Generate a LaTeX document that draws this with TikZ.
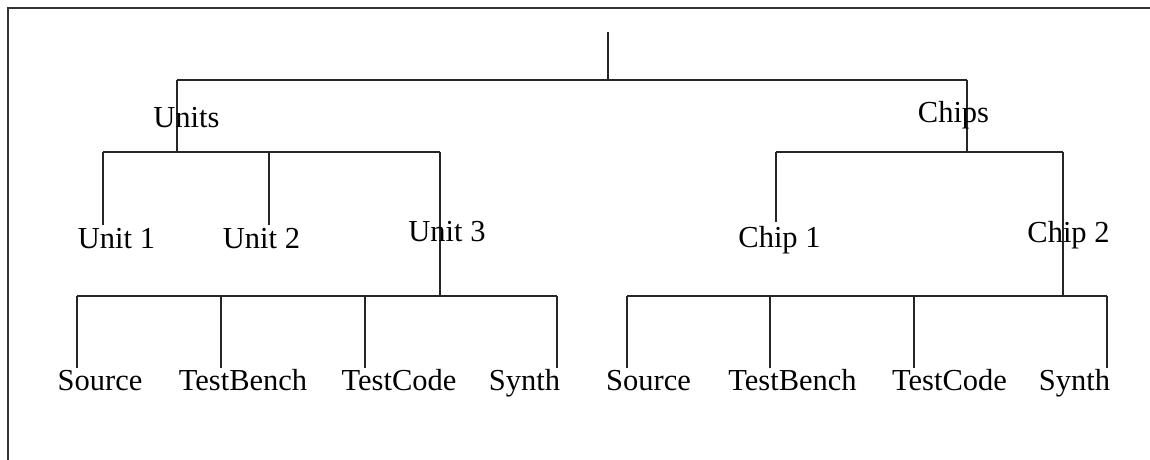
\documentclass[tikz,border=0pt]{standalone}
\usepackage{fontspec}
\setmainfont{Liberation Serif}
\begin{document}
\begin{tikzpicture}[x=1pt,y=-1pt,
  lbl/.style={anchor=base,inner sep=0pt,font=\fontsize{30.5}{36}\selectfont},
  edge/.style={line width=1.5pt,black!85},
  frame/.style={line width=2pt,black!80}]
\useasboundingbox (0,0) rectangle (1150,460);
% frame
\draw[frame] (8,460) -- (8,8) -- (1150,8);
% junction coordinates
\coordinate (r0) at (608,32);
\coordinate (r1) at (608,80);
\coordinate (uT) at (177,80);
\coordinate (cT) at (967,80);
\coordinate (uB) at (177,152);
\coordinate (cB) at (967,152);
\coordinate (u1T) at (103,152);
\coordinate (u2T) at (269,152);
\coordinate (u3T) at (440,152);
\coordinate (u1B) at (103,225);
\coordinate (u2B) at (269,225);
\coordinate (u3B) at (440,296);
\coordinate (c1T) at (776,152);
\coordinate (c2T) at (1063,152);
\coordinate (c1B) at (776,222);
\coordinate (c2B) at (1063,296);
\coordinate (la) at (77,296);
\coordinate (lb) at (221,296);
\coordinate (lc) at (365,296);
\coordinate (ld) at (557,296);
\coordinate (la2) at (77,368);
\coordinate (lb2) at (221,368);
\coordinate (lc2) at (365,368);
\coordinate (ld2) at (557,368);
\coordinate (ra) at (627,296);
\coordinate (rb) at (770,296);
\coordinate (rc) at (914,296);
\coordinate (rd) at (1107,296);
\coordinate (ra2) at (627,368);
\coordinate (rb2) at (770,368);
\coordinate (rc2) at (914,368);
\coordinate (rd2) at (1107,368);
% connectors
\draw[edge] (r0) -- (r1);
\draw[edge] (uT) -- (cT);
\draw[edge] (uT) -- (uB);
\draw[edge] (cT) -- (cB);
\draw[edge] (u1T) -- (u3T);
\draw[edge] (u1T) -- (u1B);
\draw[edge] (u2T) -- (u2B);
\draw[edge] (u3T) -- (u3B);
\draw[edge] (c1T) -- (c2T);
\draw[edge] (c1T) -- (c1B);
\draw[edge] (c2T) -- (c2B);
\draw[edge] (la) -- (ld);
\draw[edge] (la) -- (la2);
\draw[edge] (lb) -- (lb2);
\draw[edge] (lc) -- (lc2);
\draw[edge] (ld) -- (ld2);
\draw[edge] (ra) -- (rd);
\draw[edge] (ra) -- (ra2);
\draw[edge] (rb) -- (rb2);
\draw[edge] (rc) -- (rc2);
\draw[edge] (rd) -- (rd2);
% labels
\node[lbl] (units) at (186.5,127) {Units};
\node[lbl] (chips) at (953.5,122) {Chips};
\node[lbl] (unit1) at (116.5,248) {Unit 1};
\node[lbl] (unit2) at (261.5,248) {Unit 2};
\node[lbl] (unit3) at (447,241) {Unit 3};
\node[lbl] (chip1) at (779.5,247) {Chip 1};
\node[lbl] (chip2) at (1068.5,242) {Chip 2};
\node[lbl] (src1) at (100,390) {Source};
\node[lbl] (tb1) at (243,390) {TestBench};
\node[lbl] (tc1) at (399,390) {TestCode};
\node[lbl] (syn1) at (524.5,390) {Synth};
\node[lbl] (src2) at (648.5,390) {Source};
\node[lbl] (tb2) at (792.5,390) {TestBench};
\node[lbl] (tc2) at (949.5,390) {TestCode};
\node[lbl] (syn2) at (1074.5,390) {Synth};
\end{tikzpicture}
\end{document}
